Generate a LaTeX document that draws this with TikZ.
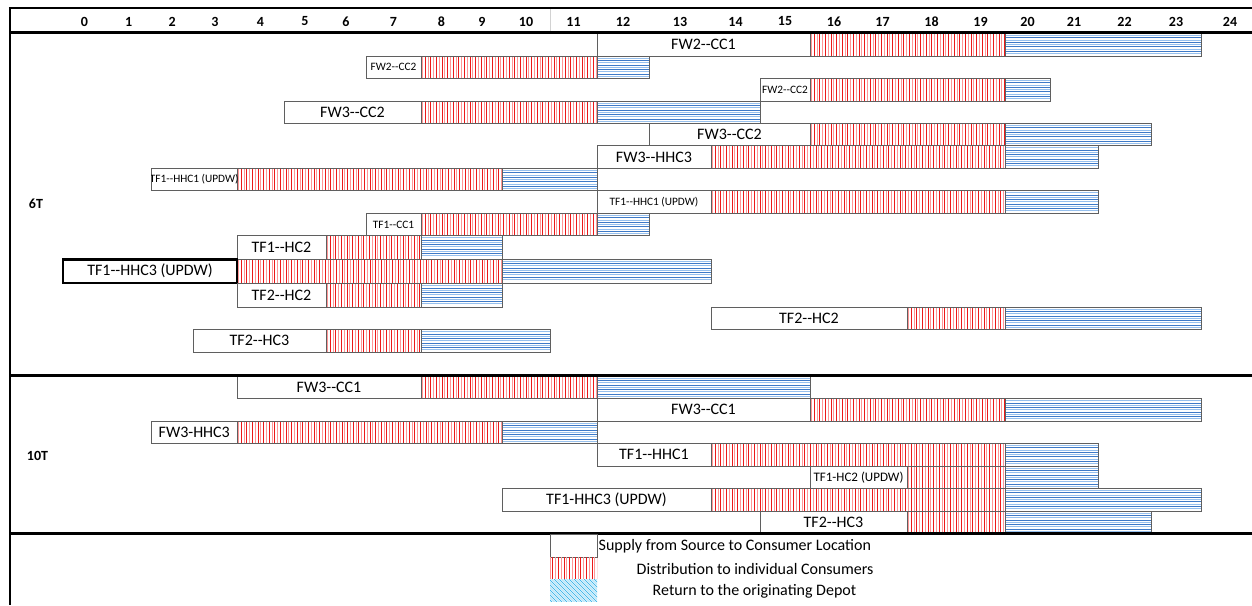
\documentclass[tikz,border=0pt]{standalone}
\usepackage{fontspec}
\setmainfont{Carlito}[Ligatures=TeXOff]

\definecolor{distred}{RGB}{235,25,25}
\definecolor{distpink}{RGB}{255,150,150}
\definecolor{retblue}{RGB}{62,122,200}
\definecolor{retsky}{RGB}{150,192,238}
\definecolor{barframe}{RGB}{95,95,95}
\definecolor{hatchcyan}{RGB}{70,185,235}
\definecolor{hatchpale}{RGB}{170,225,248}

\def\colx{{63,106,151.5,193,237,284,326,366,421,462,502,550,597,649,711,760,810,858,907,956,1005,1050,1098,1151,1201,1259}}

% \tripbar[label style]{name}{top}{bottom}{start}{distribution}{return}{end}{label}
\newcommand{\tripbar}[9][biglbl]{%
    \pgfmathsetmacro\sxa{\colx[#5]}%
    \pgfmathsetmacro\sxb{\colx[#6]}%
    \pgfmathsetmacro\sxc{\colx[#7]}%
    \pgfmathsetmacro\sxd{\colx[#8]}%
    \pgfmathtruncatemacro\nred{(\sxc-\sxb)/5.6}%
    \begin{scope}
        \clip (\sxb,#3) rectangle (\sxc,#4);
        \foreach \s in {0,...,\nred} {
            \draw[distred, line width=0.9pt] ({\sxb+4.2+5.6*\s},#3) -- ({\sxb+4.2+5.6*\s},#4);
            \draw[distpink, line width=0.9pt] ({\sxb+1.4+5.6*\s},#3) -- ({\sxb+1.4+5.6*\s},#4);
        }
    \end{scope}
    \begin{scope}
        \clip (\sxc,#3) rectangle (\sxd,#4);
        \foreach \t in {1,...,4}
            \draw[retblue, line width=1pt] (\sxc,{#3+4.5*\t}) -- (\sxd,{#3+4.5*\t});
        \foreach \t in {0,...,4}
            \draw[retsky, line width=1pt] (\sxc,{#3+2.25+4.5*\t}) -- (\sxd,{#3+2.25+4.5*\t});
    \end{scope}
    \draw[framebox] (\sxa,#3) rectangle (\sxb,#4);
    \draw[framebox] (\sxb,#3) rectangle (\sxc,#4);
    \draw[framebox] (\sxc,#3) rectangle (\sxd,#4);
    \begin{scope}
        \clip (\sxa,#3) rectangle (\sxb,#4);
        \node[#1] (#2) at ({(\sxa+\sxb)/2},{(#3+#4)/2}) {#9};
    \end{scope}
}

\begin{document}
\begin{tikzpicture}[x=1pt, y=-1pt,
    biglbl/.style={font=\fontsize{16}{16}\selectfont, inner sep=0pt},
    smalllbl/.style={font=\fontsize{11.3}{11.3}\selectfont, inner sep=0pt},
    midlbl/.style={font=\fontsize{13}{13}\selectfont, inner sep=0pt},
    hourlbl/.style={font=\bfseries\fontsize{14}{14}\selectfont, inner sep=0pt},
    legendlbl/.style={font=\fontsize{16}{16}\selectfont, inner sep=0pt, anchor=west},
    framebox/.style={draw=barframe, line width=0.8pt},
    rule/.style={line width=2.4pt}]
    \useasboundingbox (0,0) rectangle (1252,605);

    \draw[gray!35] (550,9) -- (550,31);
    \foreach \n in {0,...,24} {
        \pgfmathsetmacro\hla{\colx[\n]}
        \pgfmathsetmacro\hlb{\colx[\n+1]}
        \node[hourlbl] (h\n) at ({(\hla+\hlb)/2},21.5) {\n};
    }
    \node[hourlbl] (sixT) at (36,204) {6T};
    \node[hourlbl] (tenT) at (37.5,456) {10T};

    \tripbar{fwtwocca}{33.3}{56}{12}{16}{20}{24}{FW2--CC1}
    \tripbar[smalllbl]{fwtwoccb}{56}{78.3}{7}{8}{12}{13}{FW2--CC2}
    \tripbar[smalllbl]{fwtwoccc}{78.3}{101}{15}{16}{20}{21}{FW2--CC2}
    \tripbar{fwthreecca}{101}{123.3}{5}{8}{12}{15}{FW3--CC2}
    \tripbar{fwthreeccb}{123.3}{145.7}{13}{16}{20}{23}{FW3--CC2}
    \tripbar{fwthreehhc}{145.7}{168.3}{12}{14}{20}{22}{FW3--HHC3}
    \tripbar[smalllbl]{tfonehhca}{168.3}{190.7}{2}{4}{10}{12}{TF1--HHC1 (UPDW)}
    \tripbar[smalllbl]{tfonehhcb}{190.7}{213.3}{12}{14}{20}{22}{TF1--HHC1 (UPDW)}
    \tripbar[smalllbl]{tfonecc}{213.3}{235.7}{7}{8}{12}{13}{TF1--CC1}
    \tripbar{tfonehc}{235.7}{259}{4}{6}{8}{10}{TF1--HC2}
    \tripbar{tfonehhcc}{259}{283.5}{0}{4}{10}{14}{TF1--HHC3 (UPDW)}
    \draw[line width=2.6pt] (63,259.5) rectangle (237,283);
    \tripbar{tftwohca}{283.5}{307}{4}{6}{8}{10}{TF2--HC2}
    \tripbar{tftwohcb}{307}{329.5}{14}{18}{20}{24}{TF2--HC2}
    \tripbar{tftwohcc}{329.5}{352}{3}{6}{8}{11}{TF2--HC3}

    \tripbar{bigfwcca}{376}{398.7}{4}{8}{12}{16}{FW3--CC1}
    \tripbar{bigfwccb}{398.7}{421}{12}{16}{20}{24}{FW3--CC1}
    \tripbar{bigfwhhc}{421}{443.3}{2}{4}{10}{12}{FW3-HHC3}
    \tripbar{bigtfhhca}{443.3}{466}{12}{14}{20}{22}{TF1--HHC1}
    \tripbar[midlbl]{bigtfhc}{466}{488.3}{16}{18}{20}{22}{TF1-HC2 (UPDW)}
    \tripbar{bigtfhhcb}{488.3}{511}{10}{14}{20}{24}{TF1-HHC3 (UPDW)}
    \tripbar{bigtftwohc}{511}{533}{15}{18}{20}{23}{TF2--HC3}

    \draw[rule] (8.8,8) -- (1252,8);
    \draw[rule] (10,32.3) -- (1252,32.3);
    \draw[rule] (10,375.3) -- (1252,375.3);
    \draw[rule] (10,533.5) -- (1252,533.5);
    \draw[rule] (10,8) -- (10,605);

    \draw[framebox] (550,534.5) rectangle (597,557);
    \begin{scope}
        \clip (550,557) rectangle (597,578.5);
        \foreach \s in {0,...,8} {
            \draw[distred, line width=0.9pt] ({552.8+5.6*\s},557) -- ++(0,21.5);
            \draw[distpink, line width=0.9pt] ({550+5.6*\s},557) -- ++(0,21.5);
        }
    \end{scope}
    \begin{scope}
        \clip (550,579) rectangle (597,601.7);
        \foreach \s in {0,...,15} {
            \draw[hatchcyan, line width=0.9pt] ({524+5*\s},579) -- ++(23,23);
            \draw[hatchpale, line width=0.9pt] ({526.5+5*\s},579) -- ++(23,23);
        }
    \end{scope}
    \node[legendlbl] (supplytxt) at (598.5,546.5) {Supply from Source to Consumer Location};
    \node[legendlbl] (distrtxt) at (636.5,568.5) {Distribution to individual Consumers};
    \node[legendlbl] (returntxt) at (652.5,591) {Return to the originating Depot};
\end{tikzpicture}
\end{document}
